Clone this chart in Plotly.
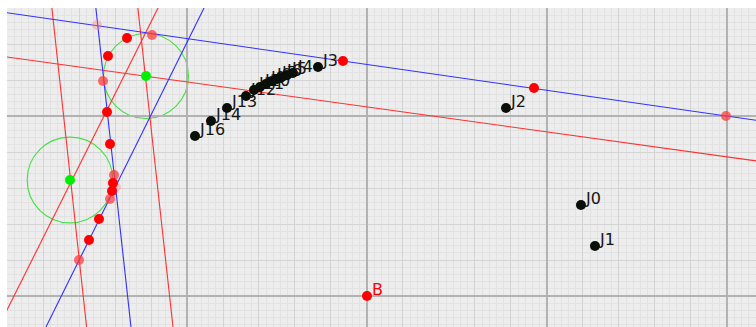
import plotly.graph_objects as go

# ---- points (J series) ----
j_names = ["J0", "J1", "J2", "J3", "J4", "J5", "J6", "J7", "J8", "J9",
           "J10", "J11", "J12", "J13", "J14", "J16"]
j_x = [5.944, 6.333, 3.861, -1.361, -2.056, -2.222, -2.361, -2.500, -2.639,
       -2.806, -2.972, -3.139, -3.361, -3.889, -4.333, -4.778]
j_y = [2.528, 1.389, 5.222, 6.361, 6.194, 6.139, 6.083, 6.028, 5.972,
       5.889, 5.806, 5.722, 5.556, 5.222, 4.861, 4.444]

# ---- red points ----
red_x = [-6.667, -7.194, -7.222, -7.139, -7.056, -7.083, -7.444, -7.722, -0.667, 4.639]
red_y = [7.167, 6.667, 5.111, 4.222, 3.139, 2.917, 2.139, 1.556, 6.528, 5.778]
half_red_x = [-5.972, -7.333, -7.028, -7.139, -8.000, 9.972]
half_red_y = [7.250, 5.972, 3.361, 2.694, 1.000, 5.000]
pale_red_x = [-7.500, -6.972]
pale_red_y = [7.528, 3.028]

b_name = ["B"]
b_x = [0.0]
b_y = [0.0]

# ---- circle centres ----
green_x = [-6.139, -8.250]
green_y = [6.111, 3.222]
green_r = [1.18, 1.19]

# ---- lines, each given by two points (x1, y1, x2, y2) ----
blue_lines = [
    (-0.667, 6.528, 9.972, 5.000),
    (-7.556, 8.222, -6.556, -0.861),
    (-4.417, 8.222, -8.917, -0.861),
]
red_lines = [
    (-10.194, 6.667, 10.806, 3.753),
    (-8.778, 8.222, -7.789, -0.861),
    (-6.389, 8.222, -5.389, -0.861),
    (-5.694, 8.222, -10.236, -0.861),
]

x_range = [-10.0, 10.806]
y_range = [-0.861, 8.0]
px = 36.0  # pixels per unit
major_step = 5

fig = go.Figure()

# major grid every 5 units, drawn as the lowest traces
major_color = "#b2b2b2"
for gx in range(-10, 15, major_step):
    if x_range[0] < gx < x_range[1]:
        fig.add_trace(go.Scatter(x=[gx, gx], y=[y_range[0] - 1, y_range[1] + 1], mode="lines",
                                 line=dict(color=major_color, width=2),
                                 hoverinfo="skip", showlegend=False))
for gy in range(0, 10, major_step):
    fig.add_trace(go.Scatter(x=[x_range[0] - 1, x_range[1] + 1], y=[gy, gy], mode="lines",
                             line=dict(color=major_color, width=2),
                             hoverinfo="skip", showlegend=False))

def add_line(seg, color):
    x1, y1, x2, y2 = seg
    ts = [-2.0, 3.0]
    fig.add_trace(go.Scatter(
        x=[x1 + t * (x2 - x1) for t in ts],
        y=[y1 + t * (y2 - y1) for t in ts],
        mode="lines", line=dict(color=color, width=1.1),
        hoverinfo="skip", showlegend=False))

for seg in red_lines:
    add_line(seg, "#ff3030")
for seg in blue_lines:
    add_line(seg, "#3030ff")

# circles
for cx, cy, r in zip(green_x, green_y, green_r):
    fig.add_shape(type="circle", xref="x", yref="y",
                  x0=cx - r, x1=cx + r, y0=cy - r, y1=cy + r,
                  line=dict(color="#44e044", width=1.1), layer="between")

# labels (drawn beneath the markers)
dx, dy = 5 / px, 5 / px
fig.add_trace(go.Scatter(
    x=[v + dx for v in j_x], y=[v + dy for v in j_y], text=j_names,
    mode="text", textposition="middle right",
    textfont=dict(family="DejaVu Sans", size=16, color="#151515"),
    hoverinfo="skip", showlegend=False))
fig.add_trace(go.Scatter(
    x=[v + dx for v in b_x], y=[v + dy for v in b_y], text=b_name,
    mode="text", textposition="middle right",
    textfont=dict(family="DejaVu Sans", size=16, color="#ff0000"),
    hoverinfo="skip", showlegend=False))

mk = 10
fig.add_trace(go.Scatter(x=pale_red_x, y=pale_red_y, mode="markers",
                         marker=dict(size=mk, color="rgba(255,120,120,0.35)", line=dict(width=0)),
                         hoverinfo="skip", showlegend=False))
fig.add_trace(go.Scatter(x=half_red_x, y=half_red_y, mode="markers",
                         marker=dict(size=mk, color="rgba(255,60,60,0.75)", line=dict(width=0)),
                         hoverinfo="skip", showlegend=False))
fig.add_trace(go.Scatter(x=red_x + b_x, y=red_y + b_y, mode="markers",
                         marker=dict(size=mk, color="#ff0000", line=dict(width=0)),
                         hoverinfo="skip", showlegend=False))
fig.add_trace(go.Scatter(x=green_x, y=green_y, mode="markers",
                         marker=dict(size=mk, color="#00ee00", line=dict(width=0)),
                         hoverinfo="skip", showlegend=False))
fig.add_trace(go.Scatter(x=j_x, y=j_y, mode="markers",
                         marker=dict(size=mk, color="#0a0f0a", line=dict(width=0)),
                         hoverinfo="skip", showlegend=False))

axis_common = dict(showticklabels=False, ticks="", zeroline=False, showline=False,
                   showgrid=True, gridcolor="#d4d4d4", gridwidth=1, dtick=1, tick0=0,
                   minor=dict(dtick=0.2, tick0=0, showgrid=True, gridcolor="#e2e2e2", gridwidth=1),
                   fixedrange=True)
fig.update_xaxes(range=x_range, **axis_common)
fig.update_yaxes(range=y_range, **axis_common)

fig.update_layout(
    width=756, height=327,
    margin=dict(l=7, r=0, t=8, b=0),
    paper_bgcolor="white", plot_bgcolor="#ededed",
    showlegend=False,
)

fig.write_html("out.html")
